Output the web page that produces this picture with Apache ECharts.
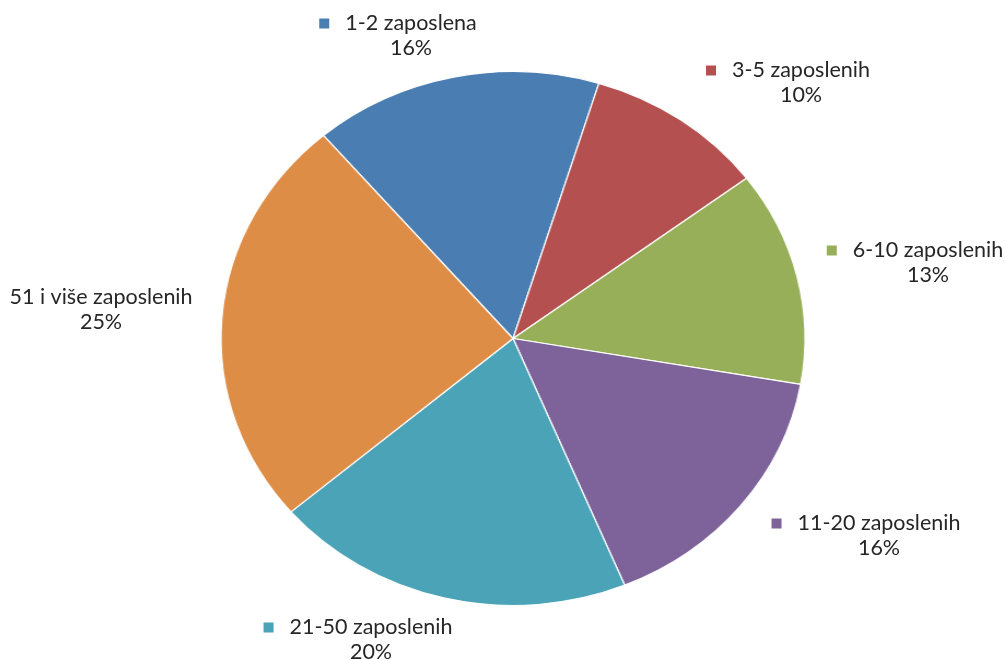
<!DOCTYPE html>
<html>
<head>
<meta charset="utf-8">
<script src="https://cdn.jsdelivr.net/npm/echarts@6/dist/echarts.min.js"></script>
<style>
  html, body { margin: 0; padding: 0; background: #ffffff; }
  #wrap { position: relative; width: 1005px; height: 660px; overflow: hidden; }
  #pie, #labels { position: absolute; left: 0; top: 0; width: 1005px; height: 660px; }
  #pie { transform: scaleX(1.0936); transform-origin: 513px 338.5px; }
</style>
</head>
<body>
<div id="wrap">
  <div id="pie"></div>
  <div id="labels"></div>
</div>
<script>
// Data
const categories = ['1-2 zaposlena', '3-5 zaposlenih', '6-10 zaposlenih', '11-20 zaposlenih', '21-50 zaposlenih', '51 i više zaposlenih'];
const values = [16, 10, 13, 16, 20, 25];
const colors = ['#4A7DB1', '#B45150', '#98AF59', '#7D6399', '#4AA3B7', '#DE8D47'];

// label block centres (text placement)
const labelPos = [[398, 36], [788, 83], [915, 263], [866, 536], [358, 640], [88, 310]];

const CENTER = [513, 338.5];
const RADIUS = 267;
const START = 130.5;

const data = categories.map((c, i) => ({ name: c, value: values[i] }));

const pieChart = echarts.init(document.getElementById('pie'), null, { renderer: 'canvas' });
pieChart.setOption({
  animation: false,
  backgroundColor: 'transparent',
  color: colors,
  series: [{
    type: 'pie',
    center: CENTER,
    radius: RADIUS,
    startAngle: START,
    clockwise: true,
    silent: true,
    label: { show: false },
    labelLine: { show: false },
    itemStyle: { borderColor: '#ffffff', borderWidth: 1.2 },
    data: data
  }]
});

const FONT = 'Lato';
const FS = 21.5;
const rich = {
  gap: { width: 16, height: 10 },
  n: { fontFamily: FONT, fontSize: FS, color: '#262626', lineHeight: 25 },
  p: { fontFamily: FONT, fontSize: FS, color: '#262626', lineHeight: 25, padding: [0, 0, 0, 26] }
};
colors.forEach((c, i) => {
  rich['sq' + i] = { width: 10, height: 10, backgroundColor: c };
});

const labelChart = echarts.init(document.getElementById('labels'), null, { renderer: 'canvas' });
labelChart.setOption({
  animation: false,
  backgroundColor: 'transparent',
  series: [{
    type: 'pie',
    center: CENTER,
    radius: RADIUS,
    startAngle: START,
    clockwise: true,
    silent: true,
    percentPrecision: 0,
    avoidLabelOverlap: false,
    itemStyle: { color: 'rgba(0,0,0,0)' },
    labelLine: { show: false },
    label: {
      show: true,
      position: 'outside',
      align: 'center',
      overflow: 'none',
      width: 400,
      formatter: function (p) {
        return '{sq' + p.dataIndex + '|}{gap|}{n|' + p.name + '}\n{p|' + p.percent + '%}';
      },
      rich: rich
    },
    labelLayout: function (params) {
      const pos = labelPos[params.dataIndex];
      return { x: pos[0], y: pos[1], align: 'center', verticalAlign: 'middle' };
    },
    data: data
  }]
});
</script>
</body>
</html>
